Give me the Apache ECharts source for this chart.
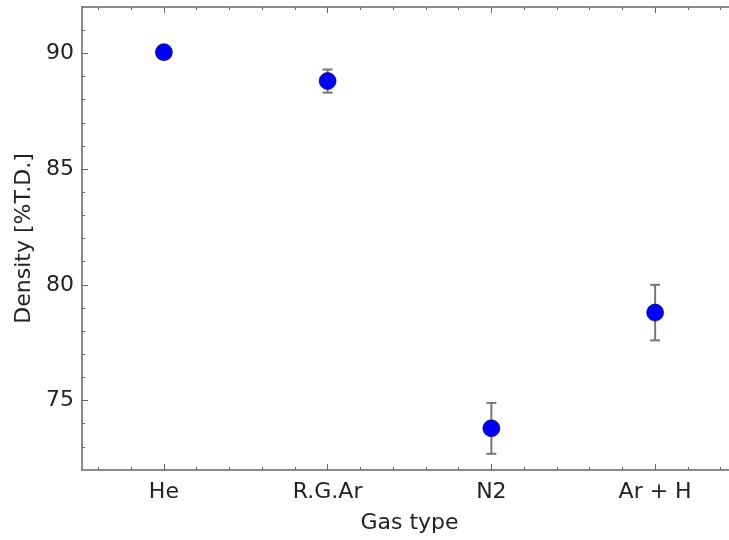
<!DOCTYPE html>
<html>
<head>
<meta charset="utf-8">
<script src="https://cdn.jsdelivr.net/npm/echarts@6/dist/echarts.min.js"></script>
<style>
html,body{margin:0;padding:0;background:#fff;}
#chart{width:729px;height:540px;}
</style>
</head>
<body>
<div id="chart"></div>
<script>
// Data
var categories = ['He', 'R.G.Ar', 'N2', 'Ar + H'];
var density = [90.05, 88.8, 73.8, 78.8];
var densityErr = [0.2, 0.5, 1.1, 1.2];
var yTickLabels = [75, 80, 85, 90];

var xMin = -0.5, xMax = categories.length - 0.5;
var yMin = 72, yMax = 92;

// tick positions for the axes
var xMajor = categories.map(function (c, i) { return i; });
var xMinor = [];
for (var k = -2; k <= categories.length * 5; k++) {
  var v = +(k * 0.2).toFixed(2);
  if (v > xMin && v < xMax && Math.abs(v - Math.round(v)) > 1e-6) xMinor.push(v);
}
var yMinor = [];
for (var y = yMin + 1; y < yMax; y++) { if (y % 5 !== 0) yMinor.push(y); }

var points = categories.map(function (c, i) { return [i, density[i]]; });
var bars = categories.map(function (c, i) { return [i, density[i] - densityErr[i], density[i] + densityErr[i]]; });

var font = 'DejaVu Sans';
var lineCol = '#666';
var lineW = 1.5;

function xAx(pos, ticks, len, opts) {
  return Object.assign({
    type: 'value', position: pos, min: xMin, max: xMax,
    axisLine: { show: false, onZero: false },
    splitLine: { show: false },
    axisLabel: { show: false },
    axisTick: { show: true, inside: true, length: len, customValues: ticks, lineStyle: { color: lineCol, width: 1 } }
  }, opts || {});
}
function yAx(pos, ticks, len, opts) {
  return Object.assign({
    type: 'value', position: pos, min: yMin, max: yMax,
    axisLine: { show: false, onZero: false },
    splitLine: { show: false },
    axisLabel: { show: false },
    axisTick: { show: true, inside: true, length: len, customValues: ticks, lineStyle: { color: lineCol, width: 1 } }
  }, opts || {});
}

var chart = echarts.init(document.getElementById('chart'));
chart.setOption({
  backgroundColor: '#fff',
  animation: false,
  grid: { left: 82, top: 7, width: 655, bottom: 70, containLabel: false, outerBoundsMode: 'none' },
  xAxis: [
    xAx('bottom', xMajor, 6, {
      name: 'Gas type', nameLocation: 'middle', nameGap: 42,
      nameTextStyle: { fontFamily: font, fontSize: 22, color: '#222' },
      axisLine: { show: true, onZero: false, lineStyle: { color: lineCol, width: lineW } },
      axisLabel: {
        show: true, customValues: xMajor, margin: 11,
        fontFamily: font, fontSize: 22, color: '#222',
        formatter: function (v) { return categories[Math.round(v)]; }
      }
    }),
    xAx('bottom', xMinor, 3),
    xAx('top', xMajor, 6, { axisLine: { show: true, onZero: false, lineStyle: { color: lineCol, width: lineW } } }),
    xAx('top', xMinor, 3)
  ],
  yAxis: [
    yAx('left', yTickLabels, 6, {
      name: 'Density [%T.D.]', nameLocation: 'middle', nameGap: 43,
      nameTextStyle: { fontFamily: font, fontSize: 22, color: '#222' },
      axisLine: { show: true, onZero: false, lineStyle: { color: lineCol, width: lineW } },
      axisLabel: {
        show: true, customValues: yTickLabels, margin: 8,
        fontFamily: font, fontSize: 22, color: '#222'
      }
    }),
    yAx('left', yMinor, 3)
  ],
  series: [
    {
      type: 'custom',
      xAxisIndex: 0, yAxisIndex: 0,
      data: bars,
      z: 1,
      renderItem: function (params, api) {
        var x = api.value(0);
        var lo = api.coord([x, api.value(1)]);
        var hi = api.coord([x, api.value(2)]);
        var hw = 5;
        var st = { stroke: '#777', lineWidth: 2, fill: null };
        return {
          type: 'group',
          children: [
            { type: 'line', shape: { x1: lo[0], y1: lo[1], x2: hi[0], y2: hi[1] }, style: st },
            { type: 'line', shape: { x1: lo[0] - hw, y1: lo[1], x2: lo[0] + hw, y2: lo[1] }, style: st },
            { type: 'line', shape: { x1: hi[0] - hw, y1: hi[1], x2: hi[0] + hw, y2: hi[1] }, style: st }
          ]
        };
      }
    },
    {
      type: 'scatter',
      xAxisIndex: 0, yAxisIndex: 0,
      data: points,
      z: 3,
      symbol: 'circle',
      symbolSize: 17,
      itemStyle: { color: '#0000ff', borderColor: '#00003a', borderWidth: 0.6, opacity: 1 }
    }
  ]
});
</script>
</body>
</html>
